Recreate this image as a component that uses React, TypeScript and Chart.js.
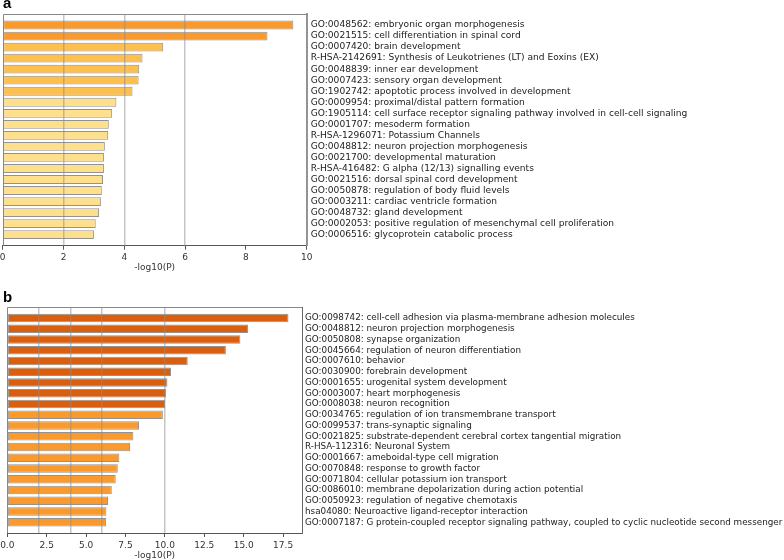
import { useEffect, useRef } from 'react';
import { Chart, registerables } from 'chart.js';
Chart.register(...registerables);

const FONT = "'DejaVu Sans', sans-serif";

const catsA = [
  'GO:0048562: embryonic organ morphogenesis',
  'GO:0021515: cell differentiation in spinal cord',
  'GO:0007420: brain development',
  'R-HSA-2142691: Synthesis of Leukotrienes (LT) and Eoxins (EX)',
  'GO:0048839: inner ear development',
  'GO:0007423: sensory organ development',
  'GO:1902742: apoptotic process involved in development',
  'GO:0009954: proximal/distal pattern formation',
  'GO:1905114: cell surface receptor signaling pathway involved in cell-cell signaling',
  'GO:0001707: mesoderm formation',
  'R-HSA-1296071: Potassium Channels',
  'GO:0048812: neuron projection morphogenesis',
  'GO:0021700: developmental maturation',
  'R-HSA-416482: G alpha (12/13) signalling events',
  'GO:0021516: dorsal spinal cord development',
  'GO:0050878: regulation of body fluid levels',
  'GO:0003211: cardiac ventricle formation',
  'GO:0048732: gland development',
  'GO:0002053: positive regulation of mesenchymal cell proliferation',
  'GO:0006516: glycoprotein catabolic process',
];
const valsA = [9.56, 8.71, 5.28, 4.6, 4.49, 4.47, 4.27, 3.74, 3.6, 3.49, 3.47, 3.36, 3.33, 3.33, 3.3, 3.26, 3.23, 3.17, 3.06, 3.0];

const catsB = [
  'GO:0098742: cell-cell adhesion via plasma-membrane adhesion molecules',
  'GO:0048812: neuron projection morphogenesis',
  'GO:0050808: synapse organization',
  'GO:0045664: regulation of neuron differentiation',
  'GO:0007610: behavior',
  'GO:0030900: forebrain development',
  'GO:0001655: urogenital system development',
  'GO:0003007: heart morphogenesis',
  'GO:0008038: neuron recognition',
  'GO:0034765: regulation of ion transmembrane transport',
  'GO:0099537: trans-synaptic signaling',
  'GO:0021825: substrate-dependent cerebral cortex tangential migration',
  'R-HSA-112316: Neuronal System',
  'GO:0001667: ameboidal-type cell migration',
  'GO:0070848: response to growth factor',
  'GO:0071804: cellular potassium ion transport',
  'GO:0086010: membrane depolarization during action potential',
  'GO:0050923: regulation of negative chemotaxis',
  'hsa04080: Neuroactive ligand-receptor interaction',
  'GO:0007187: G protein-coupled receptor signaling pathway, coupled to cyclic nucleotide second messenger',
];
const valsB = [17.84, 15.28, 14.79, 13.87, 11.45, 10.39, 10.16, 10.08, 10.02, 9.87, 8.36, 8.0, 7.79, 7.11, 7.01, 6.88, 6.63, 6.39, 6.29, 6.27];

const ticksA = [0, 2, 4, 6, 8, 10];
const ticksB = [0, 2.5, 5, 7.5, 10, 12.5, 15, 17.5];
const refLines = [2, 4, 6, 10, 20];

function binColor(v: number) {
  if (v >= 10) return '#d95f0e';
  if (v >= 6) return '#fb9a2c';
  if (v >= 4) return '#fdbf4e';
  return '#fedf8c';
}

const framePlugin = {
  id: 'frame',
  afterDatasetsDraw(chart: any) {
    const { ctx, chartArea } = chart;
    const { left, top, right, bottom } = chartArea;
    ctx.save();
    ctx.strokeStyle = '#888';
    ctx.lineWidth = 1;
    ctx.beginPath();
    ctx.moveTo(Math.round(left) + 0.5, bottom);
    ctx.lineTo(Math.round(left) + 0.5, Math.round(top) + 0.5);
    ctx.lineTo(right, Math.round(top) + 0.5);
    ctx.stroke();
    ctx.restore();
  },
};

type P = {
  cats: string[]; vals: number[]; xMax: number; xTicks: number[]; fmt: (v: number) => string;
  padLeft: number; padTop: number; plotRight: number; xH: number; labelSize: number; labelPad: number;
  rightBorder: { color: string; width: number }; titlePadBottom: number; tickPad: number;
};

function makeConfig(p: P): any {
  const W = 784;
  return {
    type: 'bar',
    data: {
      labels: ['', ...p.cats, ''],
      datasets: [{
        data: [null, ...p.vals, null],
        backgroundColor: [null, ...p.vals.map(binColor), null],
        borderColor: 'rgba(110,110,110,0.75)',
        borderWidth: 1,
        borderSkipped: false,
        barPercentage: 0.8,
        categoryPercentage: 1,
        xAxisID: 'x',
        yAxisID: 'y',
      }],
    },
    plugins: [framePlugin],
    options: {
      indexAxis: 'y',
      animation: false,
      responsive: false,
      devicePixelRatio: 1,
      layout: { padding: { left: p.padLeft, top: p.padTop, right: 0, bottom: 0 } },
      plugins: { legend: { display: false }, tooltip: { enabled: false }, title: { display: false } },
      scales: {
        x: {
          type: 'linear', position: 'bottom', min: 0, max: p.xMax,
          afterBuildTicks: (s: any) => { s.ticks = p.xTicks.map((v) => ({ value: v })); },
          ticks: { font: { family: FONT, size: 9 }, color: '#333', padding: p.tickPad, callback: (v: any) => p.fmt(Number(v)), autoSkip: false, maxRotation: 0 },
          grid: { drawOnChartArea: false, drawTicks: true, tickLength: 4, color: '#555' },
          border: { display: true, color: '#555', width: 1 },
          title: { display: true, text: '-log10(P)', font: { family: FONT, size: 9 }, color: '#333', padding: { top: 0, bottom: p.titlePadBottom } },
          afterFit: (s: any) => { s.height = p.xH; s.paddingLeft = 0; s.paddingRight = 0; },
        },
        xg: {
          type: 'linear', axis: 'x', position: 'top', min: 0, max: p.xMax, display: true,
          afterBuildTicks: (s: any) => { s.ticks = refLines.filter((v) => v <= p.xMax).map((v) => ({ value: v })); },
          ticks: { display: false },
          grid: { z: 1, color: 'rgba(140,140,140,0.5)', lineWidth: 1.5, drawTicks: false },
          border: { display: false },
          afterFit: (s: any) => { s.height = 0; s.paddingLeft = 0; s.paddingRight = 0; },
        },
        y: {
          type: 'category', position: 'right', offset: false,
          ticks: { autoSkip: false, font: { family: FONT, size: p.labelSize }, color: '#222', padding: p.labelPad, crossAlign: 'near' },
          grid: { display: false, drawTicks: false },
          border: { display: true, color: p.rightBorder.color, width: p.rightBorder.width },
          afterFit: (s: any) => { s.width = W - p.plotRight; },
        },
      },
    },
  };
}

function Panel({ cfg, top }: { cfg: P; top: number }) {
  const ref = useRef<HTMLCanvasElement>(null);
  useEffect(() => {
    const c = new Chart(ref.current!, makeConfig(cfg));
    return () => c.destroy();
  }, []);
  return <canvas ref={ref} width={784} height={280} style={{ position: 'absolute', left: 0, top, width: 784, height: 280 }} />;
}

const cfgA: P = {
  cats: catsA, vals: valsA, xMax: 10, xTicks: ticksA, fmt: (v) => String(v),
  padLeft: 2.7, padTop: 14, plotRight: 306.7, xH: 34.3, labelSize: 9.1, labelPad: 4,
  rightBorder: { color: '#999', width: 2 }, titlePadBottom: 7, tickPad: 3,
};
const cfgB: P = {
  cats: catsB, vals: valsB, xMax: 18.7, xTicks: ticksB, fmt: (v) => v.toFixed(1),
  padLeft: 7.3, padTop: 27.3, plotRight: 302, xH: 27, labelSize: 8.8, labelPad: 3,
  rightBorder: { color: '#666', width: 1 }, titlePadBottom: -1, tickPad: 3,
};

export default function App() {
  useEffect(() => { document.body.style.margin = '0'; }, []);
  const letter: any = { position: 'absolute', left: 3, fontFamily: "'Liberation Sans', Arial, sans-serif", fontWeight: 'bold', fontSize: 15, lineHeight: '15px', color: '#000' };
  return (
    <div style={{ position: 'relative', width: 784, height: 560, overflow: 'hidden', background: '#fff' }}>
      <Panel cfg={cfgA} top={0} />
      <Panel cfg={cfgB} top={280} />
      <div style={{ ...letter, top: -4.7 }}>a</div>
      <div style={{ ...letter, top: 289 }}>b</div>
    </div>
  );
}
